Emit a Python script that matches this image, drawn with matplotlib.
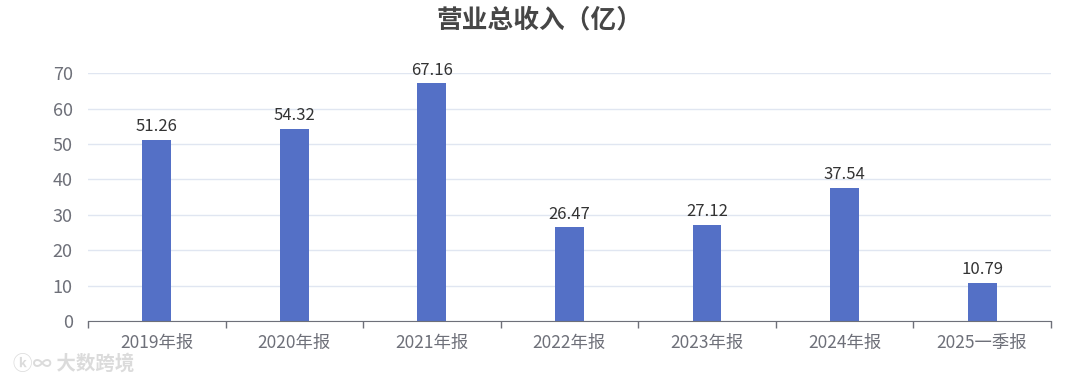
import matplotlib
matplotlib.use("Agg")
import matplotlib.pyplot as plt
import numpy as np

plt.rcParams['font.family'] = ['Noto Sans CJK SC', 'DejaVu Sans']

# data
categories = ["2019年报", "2020年报", "2021年报", "2022年报", "2023年报", "2024年报", "2025一季报"]
revenue = [51.26, 54.32, 67.16, 26.47, 27.12, 37.54, 10.79]
yticks = [0, 10, 20, 30, 40, 50, 60, 70]

bar_color = "#5470c6"
axis_color = "#6e7079"
grid_color = "#e0e6f1"

fig = plt.figure(figsize=(10.8, 3.79), dpi=100)
ax = fig.add_axes([0.0815, 0.153, 0.8915, 0.654])

x = np.arange(len(categories))
ax.bar(x, revenue, width=0.21, color=bar_color, zorder=3)

for xi, v in zip(x, revenue):
    ax.text(xi, v + 1.3, f"{v:.2f}", ha="center", va="bottom",
            fontsize=12, color="#333333", zorder=4)

ax.set_xlim(-0.5, len(categories) - 0.5)
ax.set_ylim(0, 70)
ax.set_yticks(yticks)
ax.set_yticklabels([str(t) for t in yticks], fontsize=13, color=axis_color)
ax.yaxis.grid(True, color=grid_color, linewidth=1, zorder=0)
ax.tick_params(axis="y", length=0, pad=11)

# category labels centred, tick marks on boundaries
ax.set_xticks(x)
ax.set_xticklabels(categories, fontsize=12.5, color=axis_color)
ax.tick_params(axis="x", which="major", length=0, pad=9)
ax.set_xticks(np.arange(-0.5, len(categories)), minor=True)
ax.tick_params(axis="x", which="minor", length=5, color=axis_color, width=1)

for side in ["top", "right", "left"]:
    ax.spines[side].set_visible(False)
ax.spines["bottom"].set_color(axis_color)
ax.spines["bottom"].set_zorder(5)

fig.text(0.5, 0.947, "营业总收入（亿）", ha="center", va="center",
         fontsize=18.5, fontweight="bold", color="#464646")

# watermark
fig.text(0.012, 0.04, "ⓚ∞ 大数跨境", ha="left", va="center",
         fontsize=14, fontweight="bold", color="#d8d8d8", alpha=0.9)

fig.savefig("out.png", dpi=100)
